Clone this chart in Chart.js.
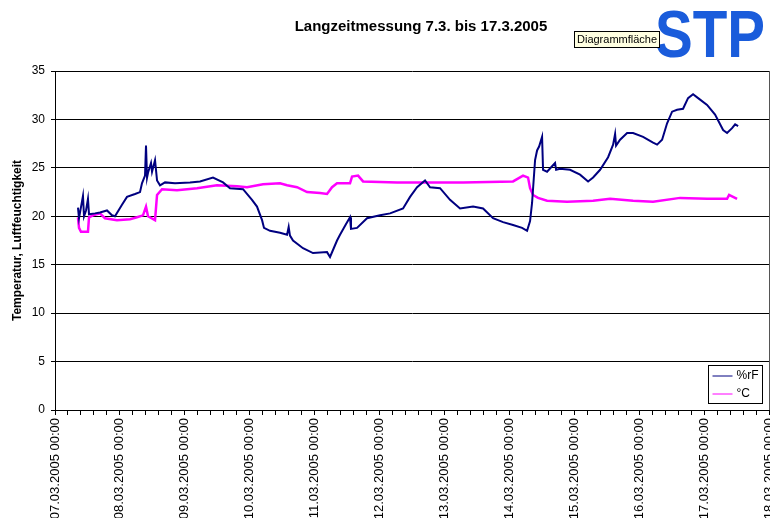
<!DOCTYPE html>
<html>
<head>
<meta charset="utf-8">
<script src="https://cdn.jsdelivr.net/npm/chart.js"></script>
<style>
	html, body { margin: 0; padding: 0; background: #fff; }
	#wrap { width: 770px; height: 518px; }
</style>
</head>
<body>
<div id="wrap"><canvas id="chart" width="770" height="518"></canvas></div>
<script>
// Tage seit 07.03.2005 00:00
const dayLabels = [
	'07.03.2005 00:00', '08.03.2005 00:00', '09.03.2005 00:00', '10.03.2005 00:00',
	'11.03.2005 00:00', '12.03.2005 00:00', '13.03.2005 00:00', '14.03.2005 00:00',
	'15.03.2005 00:00', '16.03.2005 00:00', '17.03.2005 00:00', '18.03.2005 00:00'
];

// Luftfeuchtigkeit %rF
const rfDays = [
	0.354, 0.37, 0.431, 0.447, 0.478, 0.508, 0.524, 0.616, 0.693, 0.801, 0.878, 0.924,
	1.032, 1.109, 1.233, 1.31, 1.34, 1.387, 1.402, 1.418, 1.433, 1.479, 1.495, 1.541,
	1.572, 1.618, 1.695, 1.849, 2.08, 2.234, 2.434, 2.589, 2.696, 2.897, 3.035, 3.112,
	3.19, 3.22, 3.313, 3.467, 3.575, 3.6, 3.62, 3.667, 3.821, 3.975, 4.191, 4.237, 4.345,
	4.391, 4.484, 4.545, 4.56, 4.653, 4.807, 5.008, 5.162, 5.362, 5.47, 5.578, 5.701,
	5.778, 5.932, 6.086, 6.24, 6.441, 6.595, 6.749, 6.903, 7.057, 7.196, 7.273, 7.319,
	7.35, 7.396, 7.427, 7.458, 7.504, 7.519, 7.581, 7.704, 7.72, 7.781, 7.935, 8.089,
	8.213, 8.29, 8.398, 8.521, 8.598, 8.629, 8.644, 8.706, 8.814, 8.906, 9.06, 9.214,
	9.276, 9.353, 9.43, 9.507, 9.584, 9.676, 9.753, 9.83, 9.908, 10.046, 10.169, 10.293,
	10.354, 10.431, 10.478, 10.524
];
const rfValues = [
	20.9, 19.8, 22.1, 20.0, 20.6, 21.8, 20.2, 20.3, 20.4, 20.6, 20.1, 20.0,
	21.2, 22.0, 22.3, 22.5, 23.4, 24.2, 27.3, 24.0, 24.5, 25.5, 24.6, 25.8,
	23.7, 23.2, 23.5, 23.4, 23.5, 23.6, 24.0, 23.5, 22.9, 22.8, 21.7, 21.0,
	19.6, 18.8, 18.5, 18.3, 18.1, 18.9, 18.0, 17.5, 16.7, 16.2, 16.3, 15.8, 17.5,
	18.1, 19.2, 19.9, 18.7, 18.8, 19.8, 20.1, 20.3, 20.8, 22.0, 23.0, 23.7,
	23.0, 22.9, 21.7, 20.8, 21.0, 20.8, 19.8, 19.4, 19.1, 18.8, 18.5, 19.5,
	21.4, 25.8, 26.8, 27.2, 28.2, 24.8, 24.6, 25.5, 24.8, 24.9, 24.8, 24.3,
	23.6, 24.0, 24.8, 26.1, 27.4, 28.5, 27.3, 27.9, 28.6, 28.6, 28.2, 27.6,
	27.4, 27.9, 29.6, 30.8, 31.0, 31.1, 32.2, 32.6, 32.2, 31.5, 30.5, 28.9,
	28.6, 29.1, 29.5, 29.3
];

// Temperatur °C
const tempDays = [
	0.354, 0.37, 0.4, 0.508, 0.524, 0.586, 0.693, 0.77, 0.955, 1.156, 1.263, 1.356,
	1.402, 1.433, 1.541, 1.572, 1.649, 1.88, 2.188, 2.496, 2.804, 2.958, 3.205, 3.467,
	3.575, 3.729, 3.883, 4.083, 4.191, 4.268, 4.345, 4.545, 4.576, 4.669, 4.746, 5.27,
	6.287, 7.057, 7.211, 7.288, 7.319, 7.365, 7.442, 7.581, 7.889, 8.29, 8.552, 8.906,
	9.214, 9.63, 10.046, 10.354, 10.385, 10.508
];
const tempValues = [
	19.9, 18.8, 18.4, 18.4, 19.9, 20.1, 20.3, 19.8, 19.6, 19.7, 19.9, 20.1,
	21.0, 20.0, 19.6, 22.2, 22.8, 22.7, 22.9, 23.2, 23.1, 23.0, 23.3, 23.4,
	23.2, 23.0, 22.5, 22.4, 22.3, 23.0, 23.4, 23.4, 24.1, 24.2, 23.6, 23.5,
	23.5, 23.6, 24.2, 24.0, 22.9, 22.2, 21.9, 21.6, 21.5, 21.6, 21.8, 21.6,
	21.5, 21.9, 21.8, 21.8, 22.2, 21.8
];

const FONT = '"Liberation Sans", Arial, sans-serif';

function toPoints(xs, ys) {
	return xs.map((x, i) => ({ x: x, y: ys[i] }));
}

// Titel, Logo, Tooltip, Legende und rechter Rahmen
const decorations = {
	id: 'decorations',
	afterDraw(chart) {
		const ctx = chart.ctx;
		const area = chart.chartArea;
		ctx.save();

		// Titel
		ctx.fillStyle = '#000';
		ctx.font = 'bold 15px ' + FONT;
		ctx.textAlign = 'center';
		ctx.textBaseline = 'middle';
		ctx.fillText('Langzeitmessung 7.3. bis 17.3.2005', 421, 27);

		// STP Logo
		ctx.fillStyle = '#1a5cdb';
		ctx.font = 'bold 66px ' + FONT;
		ctx.textAlign = 'left';
		ctx.textBaseline = 'alphabetic';
		ctx.fillText('STP', 655, 57, 110);

		// Tooltip "Diagrammfläche"
		ctx.fillStyle = '#ffffe1';
		ctx.fillRect(574.5, 31.5, 85, 16);
		ctx.strokeStyle = '#000';
		ctx.lineWidth = 1;
		ctx.strokeRect(574.5, 31.5, 85, 16);
		ctx.fillStyle = '#000';
		ctx.font = '11px ' + FONT;
		ctx.textBaseline = 'middle';
		ctx.fillText('Diagrammfläche', 577, 40);

		// rechter Rahmen
		ctx.strokeStyle = '#555';
		ctx.beginPath();
		ctx.moveTo(area.right + 0.5, area.top);
		ctx.lineTo(area.right + 0.5, area.bottom);
		ctx.stroke();

		// Legende
		const lx = 708.5, ly = 365.5, lw = 54, lh = 38;
		ctx.fillStyle = '#fff';
		ctx.fillRect(lx, ly, lw, lh);
		ctx.strokeStyle = '#000';
		ctx.strokeRect(lx, ly, lw, lh);
		chart.data.datasets.forEach((ds, i) => {
			const y = ly + 10.5 + i * 18;
			ctx.strokeStyle = ds.borderColor;
			ctx.lineWidth = 1;
			ctx.beginPath();
			ctx.moveTo(lx + 4, y);
			ctx.lineTo(lx + 24, y);
			ctx.stroke();
			ctx.fillStyle = '#000';
			ctx.font = '12px ' + FONT;
			ctx.textAlign = 'left';
			ctx.fillText(ds.label, lx + 28, y);
		});

		ctx.restore();
	}
};

new Chart(document.getElementById('chart'), {
	type: 'line',
	data: {
		datasets: [
			{
				label: '%rF',
				data: toPoints(rfDays, rfValues),
				borderColor: '#000080',
				borderWidth: 2,
				pointRadius: 0,
				tension: 0
			},
			{
				label: '°C',
				data: toPoints(tempDays, tempValues),
				borderColor: '#ff00ff',
				borderWidth: 2.5,
				pointRadius: 0,
				tension: 0
			}
		]
	},
	options: {
		responsive: false,
		animation: false,
		layout: { padding: { top: 71, right: 1, left: 0, bottom: 0 } },
		plugins: {
			legend: { display: false },
			tooltip: { enabled: false },
			title: { display: false }
		},
		scales: {
			x: {
				type: 'linear',
				min: 0,
				max: 11,
				grid: {
					drawOnChartArea: false,
					drawTicks: true,
					tickLength: 5,
					color: '#000'
				},
				border: { display: true, color: '#000' },
				ticks: {
					stepSize: 0.2,
					autoSkip: false,
					maxRotation: 90,
					minRotation: 90,
					padding: 3,
					color: '#000',
					font: { family: FONT, size: 13 },
					callback: function (value) {
						const d = Math.round(value * 5) / 5;
						if (Math.abs(d - Math.round(d)) < 0.001) {
							return dayLabels[Math.round(d)];
						}
						return '';
					}
				},
				afterFit(scale) {
					scale.height = 108;
					scale.paddingLeft = 0;
					scale.paddingRight = 0;
				}
			},
			y: {
				min: 0,
				max: 35,
				grid: {
					color: '#000',
					lineWidth: 1,
					tickLength: 4
				},
				border: { display: true, color: '#000' },
				ticks: {
					stepSize: 5,
					padding: 6,
					color: '#000',
					font: { family: FONT, size: 12 }
				},
				title: {
					display: true,
					text: 'Temperatur, Luftfeuchtigkeit',
					color: '#000',
					font: { family: FONT, size: 12, weight: 'bold' },
					padding: { top: 10, bottom: 0 }
				},
				afterFit(scale) {
					scale.width = 55;
				}
			}
		}
	},
	plugins: [decorations]
});
</script>
</body>
</html>
